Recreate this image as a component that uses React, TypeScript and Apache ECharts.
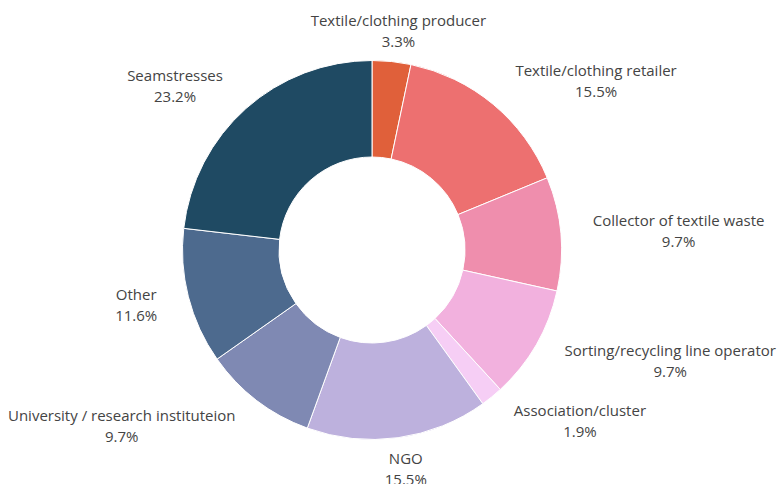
import React, { useEffect, useRef } from "react";
import * as echarts from "echarts";

const categories = [
  "Textile/clothing producer",
  "Textile/clothing retailer",
  "Collector of textile waste",
  "Sorting/recycling line operator",
  "Association/cluster",
  "NGO",
  "University / research instituteion",
  "Other",
  "Seamstresses",
];
const values = [3.3, 15.5, 9.7, 9.7, 1.9, 15.5, 9.7, 11.6, 23.2];
const colors = [
  "#e0603a",
  "#ed7070",
  "#ef8ead",
  "#f2b1de",
  "#f6cef5",
  "#bdb1dd",
  "#7f89b3",
  "#4d6a8e",
  "#1f4a63",
];

export default function App() {
  const ref = useRef<HTMLDivElement>(null);
  useEffect(() => {
    document.body.style.margin = "0";
    const chart = echarts.init(ref.current!, null, { renderer: "svg" });
    chart.setOption({
      animation: false,
      backgroundColor: "#ffffff",
      series: [
        {
          type: "pie",
          center: [372, 250],
          radius: [93, 189.5],
          startAngle: 90,
          clockwise: true,
          avoidLabelOverlap: false,
          itemStyle: { borderColor: "#ffffff", borderWidth: 1 },
          label: {
            show: true,
            position: "outside",
            formatter: "{b}\n{c}%",
            fontFamily: "Open Sans",
            fontSize: 15,
            lineHeight: 21,
            color: "#444444",
          },
          labelLine: {
            show: true,
            length: 27,
            length2: 0,
            lineStyle: { opacity: 0 },
          },
          labelLayout: (params: any) => {
            const r = params.labelRect;
            const pts = params.labelLinePoints;
            let cx = r.x + r.width / 2;
            let cy = r.y + r.height / 2;
            if (pts && pts.length >= 2) {
              const dx = pts[1][0] - pts[0][0];
              const dy = pts[1][1] - pts[0][1];
              const len = Math.sqrt(dx * dx + dy * dy) || 1;
              if (Math.abs(dx / len) < 0.25) cx = pts[1][0] + 4;
              cy += (dy / len) * 4;
            }
            return {
              x: cx,
              y: cy,
              align: "center",
              verticalAlign: "middle",
            };
          },
          data: categories.map((name, i) => ({
            name,
            value: values[i],
            itemStyle: { color: colors[i] },
          })),
        },
      ],
    });
    return () => chart.dispose();
  }, []);
  return <div ref={ref} style={{ width: 777, height: 484 }} />;
}
